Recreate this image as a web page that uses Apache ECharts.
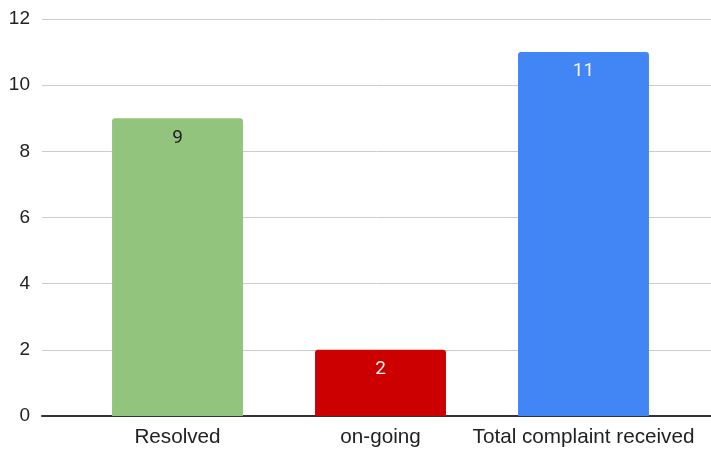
<!DOCTYPE html>
<html>
<head>
<meta charset="utf-8">
<script src="https://cdn.jsdelivr.net/npm/echarts@6/dist/echarts.min.js"></script>
<style>
html, body { margin: 0; padding: 0; background: #fff; }
#main { width: 711px; height: 449px; }
</style>
</head>
<body>
<div id="main"></div>
<script>
var categories = ['Resolved', 'on-going', 'Total complaint received']
var values = [9, 2, 11]
var colors = ['#93c47d', '#cc0000', '#4285f4']
var labelColors = ['#222222', '#f3f3f3', '#f3f3f3']

var element = document.querySelector('#main')
var chart = echarts.init(element)

var font = '"Liberation Sans", Arial, sans-serif'

chart.setOption({
    animation: false,
    grid: [
        { left: 42, right: 0, top: 19, bottom: 33 },
        { left: 76, right: 26, top: 19, bottom: 33 }
    ],
    xAxis: [
        {
            gridIndex: 0,
            type: 'value',
            min: 0,
            max: 1,
            axisLine: { show: true, onZero: false, lineStyle: { color: '#333', width: 2 } },
            axisTick: { show: false },
            axisLabel: { show: false },
            splitLine: { show: false }
        },
        {
            gridIndex: 1,
            type: 'category',
            data: categories,
            axisLine: { show: false },
            axisTick: { show: false },
            axisLabel: { interval: 0, margin: 11, fontSize: 20.7, color: '#222', fontFamily: font }
        }
    ],
    yAxis: [
        {
            gridIndex: 0,
            type: 'value',
            min: 0,
            max: 12,
            interval: 2,
            axisLine: { show: false },
            axisTick: { show: false },
            axisLabel: { margin: 12, fontSize: 19, color: '#222', fontFamily: font },
            splitLine: { lineStyle: { color: '#cccccc', width: 1 } }
        },
        {
            gridIndex: 1,
            type: 'value',
            min: 0,
            max: 12,
            show: false
        }
    ],
    series: [
        {
            type: 'bar',
            xAxisIndex: 1,
            yAxisIndex: 1,
            barWidth: '64.5%',
            data: values.map((v, i) => ({
                value: v,
                itemStyle: { color: colors[i], borderRadius: [3, 3, 0, 0] },
                label: { color: labelColors[i] }
            })),
            label: {
                show: true,
                position: 'insideTop',
                distance: 10,
                fontSize: 19,
                fontFamily: 'Roboto, sans-serif'
            }
        }
    ]
})
</script>
</body>
</html>
